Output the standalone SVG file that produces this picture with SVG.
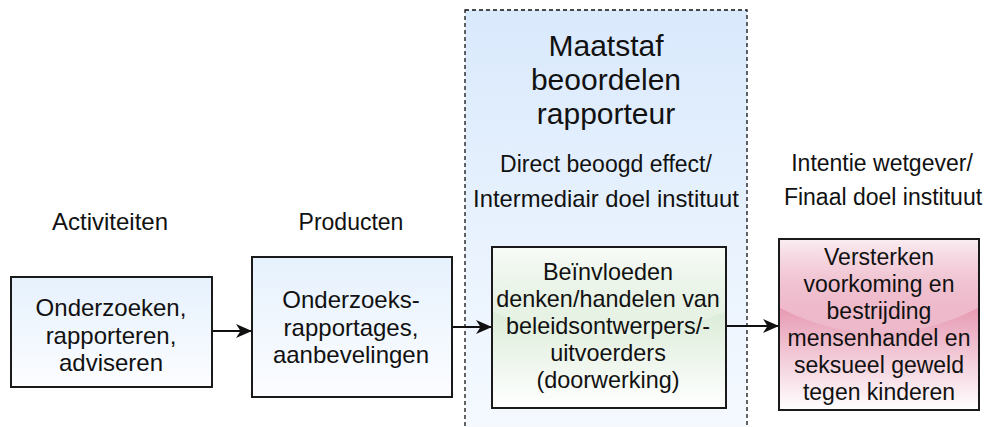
<svg xmlns="http://www.w3.org/2000/svg" width="992" height="427" viewBox="0 0 992 427">
<style>
text{font-family:"Liberation Sans",Arial,sans-serif;fill:#111;text-anchor:middle}
.t{font-size:23px}
.b{font-size:24px}
.h{font-size:30px}
.box{stroke:#1a1a1a;stroke-width:2}
.edge{fill:none;stroke:#111;stroke-width:2;marker-end:url(#arr)}
</style>
<defs>
<linearGradient id="gCont" x1="0" y1="0" x2="0" y2="1"><stop offset="0" stop-color="#d9e9fc"/><stop offset="1" stop-color="#f6faff"/></linearGradient>
<linearGradient id="gBlue" x1="0" y1="0" x2="0" y2="1"><stop offset="0" stop-color="#e6f1fd"/><stop offset="1" stop-color="#fcfdff"/></linearGradient>
<linearGradient id="gGreen" x1="0" y1="0" x2="0" y2="1"><stop offset="0" stop-color="#c4e0bf"/><stop offset="1" stop-color="#ffffff"/></linearGradient>
<linearGradient id="gPink" x1="0" y1="0" x2="0" y2="1"><stop offset="0" stop-color="#d6567f"/><stop offset="1" stop-color="#ffffff"/></linearGradient>
<linearGradient id="gGlass" x1="0" y1="0" x2="0" y2="1"><stop offset="0" stop-color="#fff" stop-opacity="0.9"/><stop offset="1" stop-color="#fff" stop-opacity="0.1"/></linearGradient>
<marker id="arr" markerUnits="userSpaceOnUse" viewBox="0 0 16 14" markerWidth="16" markerHeight="14" refX="16" refY="7" orient="auto">
<path d="M0,0 L16,7 L0,14 L4.5,7 Z" fill="#111"/>
</marker>
</defs>

<g id="container">
<rect x="465" y="10" width="282" height="430" fill="url(#gCont)" stroke="#111" stroke-width="1.3" stroke-dasharray="4 3"/>
<text class="h" x="606" y="56">Maatstaf</text>
<text class="h" x="606" y="90">beoordelen</text>
<text class="h" x="606" y="124">rapporteur</text>
<text class="t" x="606" y="172">Direct beoogd effect/</text>
<text class="t" x="606" y="207" style="font-size:23.8px">Intermediair doel instituut</text>
</g>

<g id="label-activiteiten"><text class="b" x="110" y="230">Activiteiten</text></g>
<g id="label-producten"><text class="t" x="351" y="230">Producten</text></g>
<g id="label-intentie">
<text class="t" x="882" y="171">Intentie wetgever/</text>
<text class="t" x="883" y="205">Finaal doel instituut</text>
</g>

<g id="connectors">
<path class="edge" d="M212,331 L252,331"/>
<path class="edge" d="M452,327 L492,327"/>
<path class="edge" d="M726,326 L779,326"/>
</g>

<g id="activiteiten">
<rect class="box" x="11" y="277" width="201" height="110" fill="url(#gBlue)"/>
<text class="b" x="111" y="316">Onderzoeken,</text>
<text class="b" x="111" y="344">rapporteren,</text>
<text class="b" x="111" y="371">adviseren</text>
</g>

<g id="producten">
<rect class="box" x="252" y="257" width="200" height="140" fill="url(#gBlue)"/>
<text class="b" x="351" y="308">Onderzoeks-</text>
<text class="b" x="351" y="336">rapportages,</text>
<text class="b" x="351" y="363">aanbevelingen</text>
</g>

<g id="beinvloeden">
<rect class="box" x="492" y="247" width="234" height="161" fill="url(#gGreen)"/>
<path d="M492,247 L726,247 L726,311.4 Q609,359.7 492,311.4 Z" fill="url(#gGlass)"/>
<rect x="492" y="247" width="234" height="161" fill="none" class="box"/>
<text class="t" x="608" y="280" style="font-size:23.4px">Beïnvloeden</text>
<text class="t" x="608" y="307" style="font-size:23.4px">denken/handelen van</text>
<text class="t" x="608" y="334" style="font-size:23.4px">beleidsontwerpers/-</text>
<text class="t" x="608" y="361" style="font-size:23.4px">uitvoerders</text>
<text class="t" x="608" y="388" style="font-size:23.4px">(doorwerking)</text>
</g>

<g id="versterken">
<rect class="box" x="779" y="239" width="200" height="171" fill="url(#gPink)"/>
<path d="M779,239 L979,239 L979,307.4 Q879,358.7 779,307.4 Z" fill="url(#gGlass)"/>
<rect x="779" y="239" width="200" height="171" fill="none" class="box"/>
<text class="t" x="879" y="265">Versterken</text>
<text class="t" x="879" y="292">voorkoming en</text>
<text class="t" x="879" y="319">bestrijding</text>
<text class="t" x="879" y="346">mensenhandel en</text>
<text class="t" x="879" y="373">seksueel geweld</text>
<text class="t" x="879" y="400">tegen kinderen</text>
</g>
</svg>
